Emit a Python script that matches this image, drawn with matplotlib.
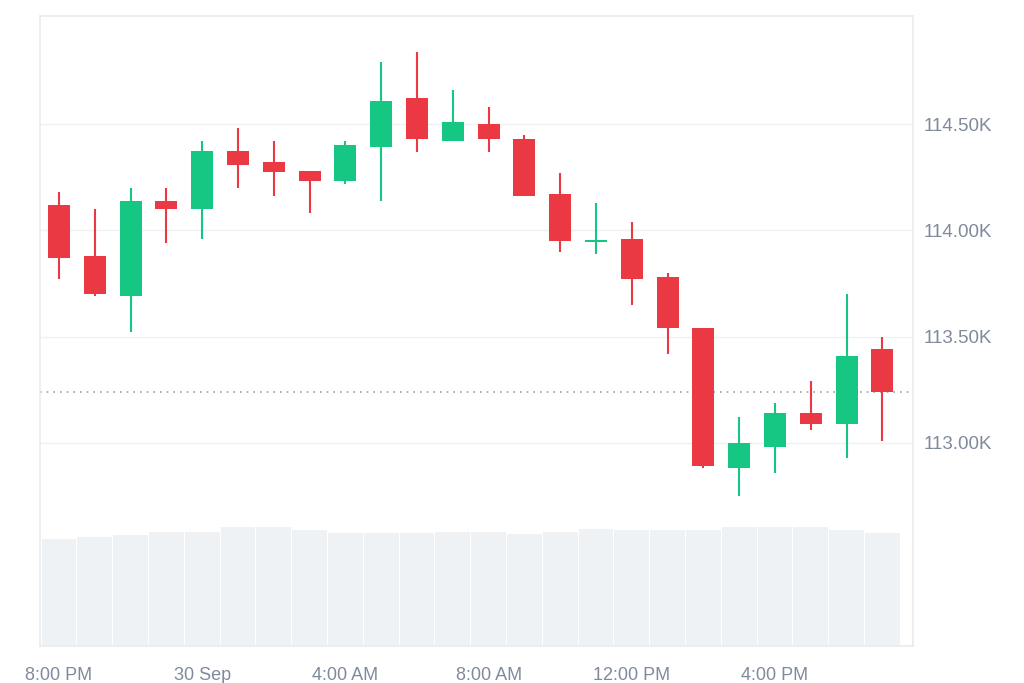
import pandas as pd
import matplotlib.pyplot as plt
import matplotlib.dates as mdates
from matplotlib.ticker import FuncFormatter

# hourly candles, 29 Sep 8 PM -> 30 Sep 7 PM
times = pd.date_range("2025-09-29 20:00", periods=24, freq="h")

opens = [114120, 113880, 113690, 114140, 114100, 114375, 114320, 114280,
         114230, 114390, 114620, 114420, 114500, 114430, 114170, 113945,
         113960, 113780, 113540, 112880, 112980, 113140, 113090, 113440]
highs = [114180, 114100, 114200, 114200, 114420, 114480, 114420, 114280,
         114420, 114790, 114840, 114660, 114580, 114450, 114270, 114130,
         114040, 113800, 113540, 113120, 113190, 113290, 113700, 113500]
lows = [113770, 113690, 113520, 113940, 113960, 114200, 114160, 114080,
        114220, 114140, 114370, 114420, 114370, 114160, 113900, 113890,
        113650, 113420, 112880, 112750, 112860, 113060, 112930, 113010]
closes = [113870, 113700, 114140, 114100, 114375, 114305, 114275, 114230,
          114400, 114610, 114430, 114510, 114430, 114160, 113950, 113955,
          113770, 113540, 112890, 113000, 113140, 113090, 113410, 113240]

# relative volume (no axis shown in the chart)
volume = [1.074, 1.087, 1.107, 1.14, 1.14, 1.194, 1.194, 1.16, 1.127, 1.127,
          1.127, 1.14, 1.14, 1.12, 1.14, 1.174, 1.16, 1.16, 1.16, 1.194,
          1.194, 1.194, 1.16, 1.127]

price_ticks = [113000, 113500, 114000, 114500]

GREEN = "#16c784"
RED = "#ea3943"
GREY_TXT = "#808a9d"
GRID = "#eff0f2"

x = mdates.date2num(times.to_pydatetime())
step = 1 / 24

fig = plt.figure(figsize=(10.24, 6.83), dpi=100)
ax = fig.add_axes([40 / 1024, 37 / 683, 873 / 1024, 630 / 683])
axv = ax.twinx()
ax.set_zorder(2)
ax.patch.set_visible(False)
axv.set_zorder(1)

# volume bars
axv.bar(x, volume, width=step * 0.97, color="#eff2f5", edgecolor="none")
axv.set_ylim(0, 6.3)
axv.set_yticks([])
for s in axv.spines.values():
    s.set_visible(False)

# candles
for xi, o, h, l, c in zip(x, opens, highs, lows, closes):
    col = GREEN if c >= o else RED
    ax.vlines(xi, l, h, color=col, linewidth=1.5, zorder=3)
    body = max(abs(c - o), 8)
    ax.bar(xi, body, bottom=min(o, c) - (body - abs(c - o)) / 2,
           width=step * 0.615, color=col, zorder=4)

ax.axhline(closes[-1], color="#9aa1ad", linewidth=1.2,
           linestyle=(0, (1, 3)), zorder=2)

ax.set_ylim(112045, 115008)
ax.set_xlim(x[0] - 0.531 * step, x[0] + 23.855 * step)

ax.set_yticks(price_ticks)
ax.yaxis.tick_right()
ax.yaxis.set_major_formatter(FuncFormatter(lambda v, p: f"{v / 1000:.2f}K"))
ax.grid(axis="y", color=GRID, linewidth=1)
ax.set_axisbelow(True)


def fmt_time(v, pos):
    t = mdates.num2date(v)
    if t.hour == 0:
        return f"{t.day} {t:%b}"
    return t.strftime("%-I:%M %p")


ax.set_xticks(x[::4])
ax.xaxis.set_major_formatter(FuncFormatter(fmt_time))

ax.tick_params(axis="both", length=0, labelsize=13, labelcolor=GREY_TXT)
ax.tick_params(axis="y", pad=8, labelsize=13.5)
ax.tick_params(axis="x", pad=15)
for lab in ax.get_xticklabels() + ax.get_yticklabels():
    lab.set_family("Liberation Sans")

for s in ax.spines.values():
    s.set_color("#ebebeb")
    s.set_linewidth(1.2)

fig.savefig("out.png", dpi=100)
